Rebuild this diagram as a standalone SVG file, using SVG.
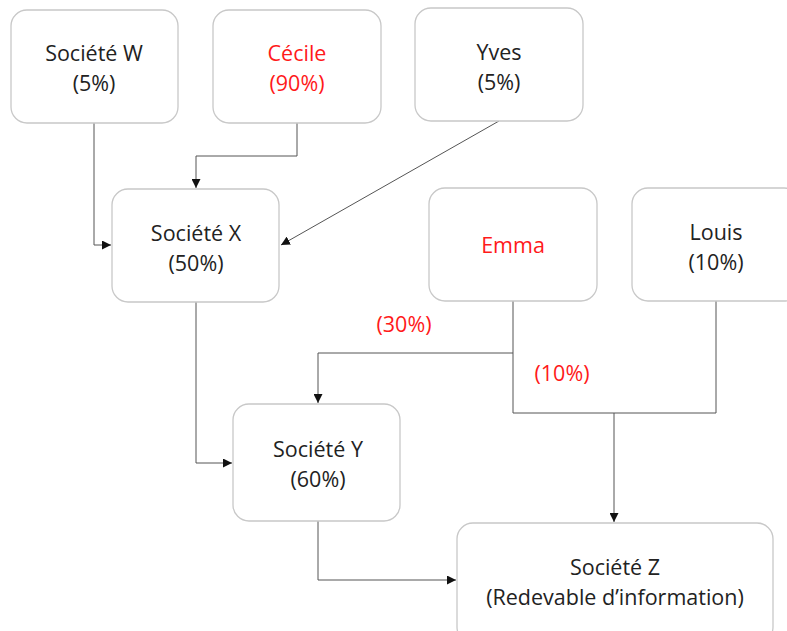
<svg xmlns="http://www.w3.org/2000/svg" width="787" height="631" viewBox="0 0 787 631">
<style>
.box{fill:#fff;stroke:#c8c8c8;stroke-width:1.3}
.t{font-family:"Open Sans","Noto Sans",sans-serif;font-size:21.5px;fill:#222;text-anchor:middle}
.r{fill:#ff1a1a}
.c{fill:none;stroke:#555;stroke-width:1}
</style>
<defs>
<marker id="a" viewBox="0 0 10 10" refX="10" refY="5" markerWidth="9" markerHeight="9" markerUnits="userSpaceOnUse" orient="auto">
<path d="M0,0 L10,5 L0,10 z" fill="#111"/>
</marker>
</defs>
<rect width="787" height="631" fill="#fff"/>
<g id="connectors">
<path class="c" d="M94,123 V245 H111" marker-end="url(#a)"/>
<path class="c" d="M297,123 V156 H196 V188" marker-end="url(#a)"/>
<path class="c" d="M499,121 L281,245" marker-end="url(#a)"/>
<path class="c" d="M196,302 V463 H232" marker-end="url(#a)"/>
<path class="c" d="M513,353 H318 V403" marker-end="url(#a)"/>
<path class="c" d="M513,301 V413 H716 V301"/>
<path class="c" d="M614,413 V522" marker-end="url(#a)"/>
<path class="c" d="M318,521 V580 H456" marker-end="url(#a)"/>
<text class="t r" x="404" y="332">(30%)</text>
<text class="t r" x="562" y="381">(10%)</text>
</g>
<g id="societe-w"><rect class="box" x="11" y="10" width="167" height="113" rx="16"/><text class="t" x="94" y="61">Société W</text><text class="t" x="94" y="91">(5%)</text></g>
<g id="cecile"><rect class="box" x="213" y="10" width="168" height="113" rx="16"/><text class="t r" x="297" y="61">Cécile</text><text class="t r" x="297" y="91">(90%)</text></g>
<g id="yves"><rect class="box" x="415" y="8" width="168" height="113" rx="16"/><text class="t" x="499" y="60">Yves</text><text class="t" x="499" y="90">(5%)</text></g>
<g id="societe-x"><rect class="box" x="112" y="189" width="167" height="113" rx="16"/><text class="t" x="196" y="241">Société X</text><text class="t" x="196" y="271">(50%)</text></g>
<g id="emma"><rect class="box" x="429" y="188" width="168" height="113" rx="16"/><text class="t r" x="513" y="253">Emma</text></g>
<g id="louis"><rect class="box" x="632" y="188" width="168" height="113" rx="16"/><text class="t" x="716" y="240">Louis</text><text class="t" x="716" y="270">(10%)</text></g>
<g id="societe-y"><rect class="box" x="233" y="404" width="167" height="117" rx="16"/><text class="t" x="318" y="457">Société Y</text><text class="t" x="318" y="487">(60%)</text></g>
<g id="societe-z"><rect class="box" x="457" y="523" width="316" height="120" rx="16"/><text class="t" x="615" y="575">Société Z</text><text class="t" x="615" y="605">(Redevable d’information)</text></g>
</svg>
